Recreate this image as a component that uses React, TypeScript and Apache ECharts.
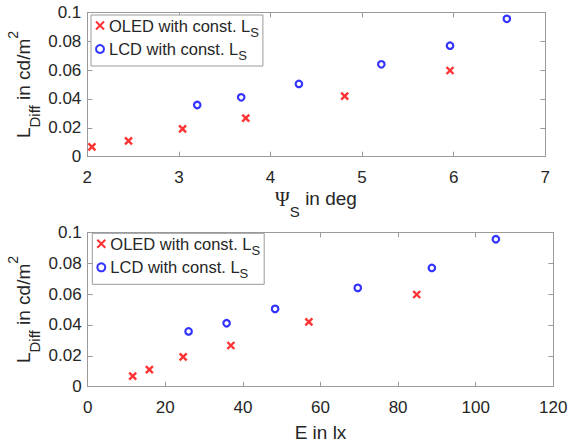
import React, { useEffect, useRef } from "react";
import * as echarts from "echarts";

// ---- data ----
const psiValuesOled = [2.05, 2.45, 3.04, 3.73, 4.81, 5.96];
const psiValuesLcd = [3.2, 3.68, 4.31, 5.21, 5.96, 6.58];
const illuminanceOled = [11.6, 15.9, 24.6, 36.9, 57.0, 84.8];
const illuminanceLcd = [26.0, 35.8, 48.3, 69.6, 88.7, 105.2];
const ldiffOled = [0.0068, 0.011, 0.0193, 0.0267, 0.042, 0.0597];
const ldiffLcd = [0.0358, 0.0411, 0.0504, 0.064, 0.0769, 0.0955];

const psiAxis = { min: 2, max: 7, interval: 1 };
const eAxis = { min: 0, max: 120, interval: 20 };
const ldiffAxis = { min: 0, max: 0.1, interval: 0.02 };

const OLED = "OLED with const. L_S";
const LCD = "LCD with const. L_S";
const captionWords = ["Figure", "7:", "Evaluation", "of"];

// ---- styles ----
const FONT = "'Liberation Sans', Arial, Helvetica, sans-serif";
const SERIF = "'Liberation Serif', 'Times New Roman', serif";
const TEXT = "#262626";
const AXIS = "#9a9a9a";
const CROSS = "path://M0,0L10,10M10,0L0,10";

function fmt(v: number) {
  if (v === 0) return "0";
  return String(parseFloat(v.toFixed(3)));
}

function axesFor(gridIndex: number, xr: any) {
  const common = {
    gridIndex,
    type: "value" as const,
    splitLine: { show: false },
    axisLine: { show: true, onZero: false, lineStyle: { color: AXIS, width: 1 } },
    axisTick: { show: true, inside: true, length: 5, lineStyle: { color: AXIS } },
  };
  const x = [
    {
      ...common,
      ...xr,
      position: "bottom",
      axisLabel: {
        margin: 12,
        color: TEXT,
        fontSize: 17,
        lineHeight: 17,
        fontFamily: FONT,
        formatter: (v: number) => fmt(v),
      },
    },
    { ...common, ...xr, position: "top", axisLabel: { show: false } },
  ];
  const y = [
    {
      ...common,
      ...ldiffAxis,
      position: "left",
      axisLabel: {
        margin: 6,
        color: TEXT,
        fontSize: 17,
        fontFamily: FONT,
        formatter: (v: number) => fmt(v),
      },
    },
    { ...common, ...ldiffAxis, position: "right", axisLabel: { show: false } },
  ];
  return { x, y };
}

function legendFor(left: number, top: number) {
  return {
    orient: "vertical",
    left,
    top,
    padding: [2, 4, 4, 4],
    itemGap: 2,
    itemWidth: 8,
    itemHeight: 8,
    borderColor: AXIS,
    borderWidth: 1,
    backgroundColor: "#ffffff",
    selectedMode: false,
    data: [OLED, LCD],
    formatter: (n: string) =>
      n === OLED ? "{a|OLED with const. L}{s|S}" : "{a|LCD with const. L}{s|S}",
    textStyle: {
      color: TEXT,
      fontFamily: FONT,
      fontSize: 16.5,
      rich: {
        a: { fontSize: 16.5, lineHeight: 26, color: TEXT, fontFamily: FONT },
        s: { fontSize: 13, lineHeight: 12.6, verticalAlign: "bottom", color: TEXT, fontFamily: FONT },
      },
    },
  };
}

function seriesFor(idx: number, xsOled: number[], xsLcd: number[]) {
  return [
    {
      type: "scatter",
      name: OLED,
      xAxisIndex: idx * 2,
      yAxisIndex: idx * 2,
      symbol: CROSS,
      symbolSize: 7,
      itemStyle: { color: "#ff0000", borderColor: "#ff0000", borderWidth: 2.4 },
      data: xsOled.map((x, i) => [x, ldiffOled[i]]),
    },
    {
      type: "scatter",
      name: LCD,
      xAxisIndex: idx * 2,
      yAxisIndex: idx * 2,
      symbol: "circle",
      symbolSize: 6.5,
      itemStyle: { color: "#ffffff", borderColor: "#0000ff", borderWidth: 2.2 },
      data: xsLcd.map((x, i) => [x, ldiffLcd[i]]),
    },
  ];
}

function yLabel(y: number) {
  return {
    type: "text",
    x: 23.5,
    y,
    rotation: Math.PI / 2,
    style: {
      text: "{m|L}{d|Diff}{m| in cd/m}{p|2}",
      align: "center",
      verticalAlign: "middle",
      fill: TEXT,
      fontFamily: FONT,
      fontSize: 19,
      rich: {
        m: { fontSize: 19, lineHeight: 36, fontFamily: FONT, fill: TEXT },
        d: { fontSize: 15, lineHeight: 15, verticalAlign: "bottom", fontFamily: FONT, fill: TEXT },
        p: { fontSize: 14, lineHeight: 25, verticalAlign: "top", fontFamily: FONT, fill: TEXT },
      },
    },
  };
}

export default function App() {
  const ref = useRef<HTMLDivElement>(null);
  useEffect(() => {
    if (!ref.current) return;
    const chart = echarts.init(ref.current, undefined, { renderer: "svg" });
    const a0 = axesFor(0, psiAxis);
    const a1 = axesFor(1, eAxis);
    const captionX = [7, 100, 137, 277];
    chart.setOption({
      animation: false,
      backgroundColor: "#ffffff",
      grid: [
        { left: 87.3, top: 12.3, width: 458, height: 144.4, containLabel: false, outerBoundsMode: "none" },
        { left: 87.7, top: 232.3, width: 465.6, height: 154.4, containLabel: false, outerBoundsMode: "none" },
      ],
      xAxis: [...a0.x, ...a1.x],
      yAxis: [...a0.y, ...a1.y],
      legend: [legendFor(91, 15), legendFor(92.3, 233.3)],
      series: [...seriesFor(0, psiValuesOled, psiValuesLcd), ...seriesFor(1, illuminanceOled, illuminanceLcd)],
      graphic: [
        yLabel(84.5),
        yLabel(309.5),
        {
          type: "text",
          x: 316,
          y: 198.5,
          style: {
            text: "{g|Ψ}{s|S}{m| in deg}",
            align: "center",
            verticalAlign: "middle",
            fill: TEXT,
            fontFamily: FONT,
            fontSize: 19,
            rich: {
              g: { fontSize: 20, lineHeight: 41, fontFamily: SERIF, fill: TEXT },
              s: { fontSize: 15, lineHeight: 16, verticalAlign: "bottom", fontFamily: FONT, fill: TEXT },
              m: { fontSize: 19, lineHeight: 41, fontFamily: FONT, fill: TEXT },
            },
          },
        },
        {
          type: "text",
          x: 320.5,
          y: 432.4,
          style: {
            text: "E in lx",
            align: "center",
            verticalAlign: "middle",
            fill: TEXT,
            fontFamily: FONT,
            fontSize: 19,
          },
        },
        ...captionWords.map((w, i) => ({
          type: "text",
          x: captionX[i],
          y: 455.8,
          style: {
            text: w,
            align: "left",
            verticalAlign: "middle",
            fill: "#000000",
            fontFamily: FONT,
            fontWeight: "bold",
            fontSize: 24.5,
          },
        })),
      ],
    });
    return () => chart.dispose();
  }, []);
  return (
    <div
      ref={ref}
      style={{ position: "absolute", left: 0, top: 0, width: 572, height: 445 }}
    />
  );
}
